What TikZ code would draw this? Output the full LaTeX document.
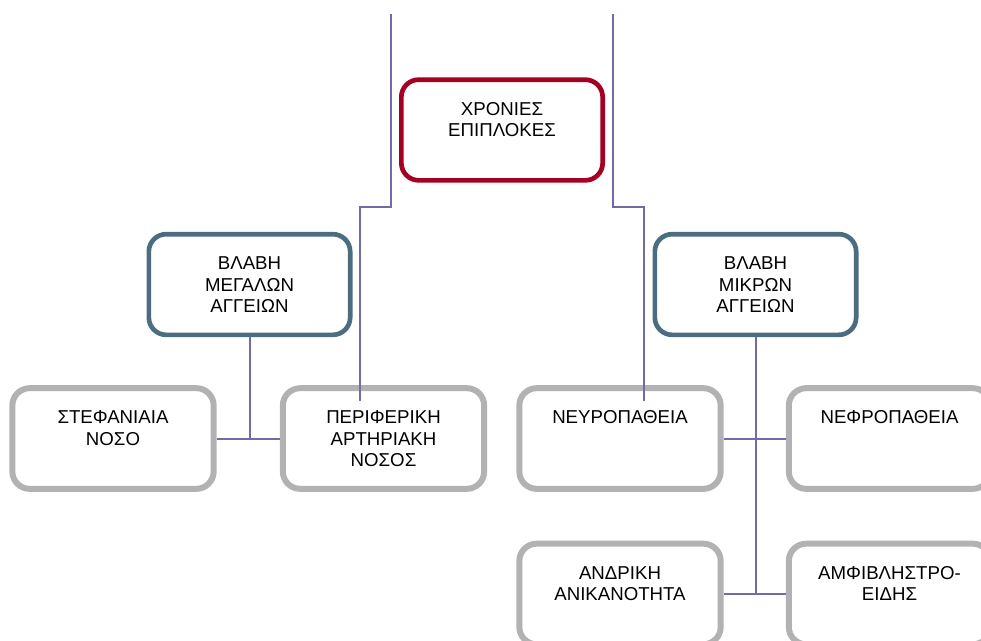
\documentclass[tikz,border=0pt]{standalone}
\usepackage{fontspec}
\setmainfont{Liberation Sans}
\usetikzlibrary{arrows}
\definecolor{chronred}{RGB}{165,0,33}
\definecolor{vesselblue}{RGB}{76,108,128}
\definecolor{compgrey}{RGB}{178,178,178}
\definecolor{linkviolet}{RGB}{112,108,166}

\begin{document}
\begin{tikzpicture}[x=0.75pt,y=-0.75pt,
    box/.style={draw,fill=white,rounded corners=13pt,minimum width=151pt,minimum height=75.5pt,
      text width=140pt,align=center,inner ysep=0pt,text height=26.5pt,text depth=49pt,
      font=\fontsize{14}{16.3}\selectfont},
    topbox/.style={box,draw=chronred,line width=3.5pt},
    groupbox/.style={box,draw=vesselblue,line width=3.5pt},
    leafbox/.style={box,draw=compgrey,line width=4.5pt},
    link/.style={draw=linkviolet,line width=1.5pt}]
  \useasboundingbox (0,0) rectangle (981,640);
  % top level
  \node[topbox] (chron) at (502,130) {ΧΡΟΝΙΕΣ\\ΕΠΙΠΛΟΚΕΣ};
  % vessel groups
  \node[groupbox] (macro) at (249.5,284.5) {ΒΛΑΒΗ\\ΜΕΓΑΛΩΝ\\ΑΓΓΕΙΩΝ};
  \node[groupbox] (micro) at (755.5,284.5) {ΒΛΑΒΗ\\ΜΙΚΡΩΝ\\ΑΓΓΕΙΩΝ};
  % complications
  \node[leafbox] (stef) at (113,438.5) {ΣΤΕΦΑΝΙΑΙΑ\\ΝΟΣΟ};
  \node[leafbox] (peri) at (383.5,438.5) {ΠΕΡΙΦΕΡΙΚΗ\\ΑΡΤΗΡΙΑΚΗ\\ΝΟΣΟΣ};
  \node[leafbox] (neur) at (620,438.5) {ΝΕΥΡΟΠΑΘΕΙΑ};
  \node[leafbox] (nefr) at (889.5,438.5) {ΝΕΦΡΟΠΑΘΕΙΑ};
  \node[leafbox] (andr) at (620,594) {ΑΝΔΡΙΚΗ\\ΑΝΙΚΑΝΟΤΗΤΑ};
  \node[leafbox] (amfi) at (889.5,594) {ΑΜΦΙΒΛΗΣΤΡΟ-\\ΕΙΔΗΣ};
  % lines coming in from above
  \coordinate (topl) at (391,14);
  \coordinate (topr) at (613,14);
  \coordinate (endl) at (360,401);
  \coordinate (endr) at (644,401);
  \draw[-,link] (topl) |- (360,207) -- (endl);
  \draw[-,link] (topr) |- (644,207) -- (endr);
  % connectors
  \draw[-,link] (macro.south) to (macro.south |- stef.east);
  \draw[-,link] (stef.east) to (peri.west);
  \draw[-,link] (micro.south) to (micro.south |- andr.east);
  \draw[-,link] (neur.east) to (nefr.west);
  \draw[-,link] (andr.east) to (amfi.west);
\end{tikzpicture}
\end{document}
